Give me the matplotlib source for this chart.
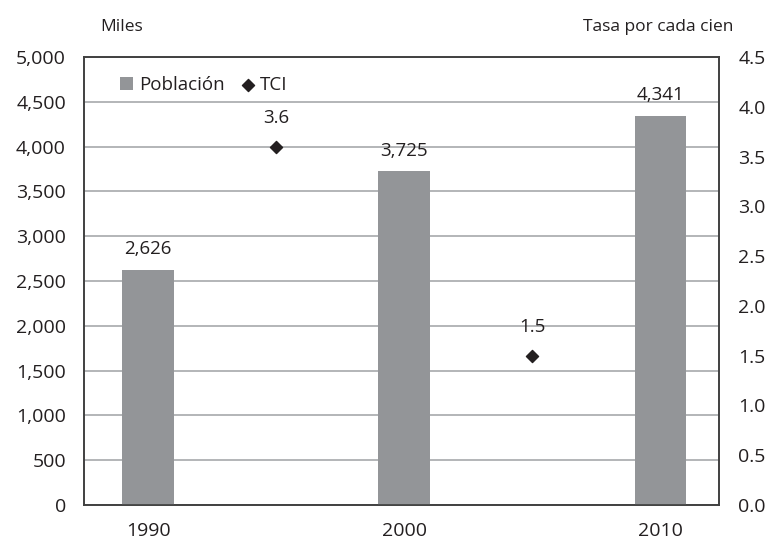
import matplotlib.pyplot as plt

# data
years = ["1990", "2000", "2010"]
poblacion = [2626, 3725, 4341]
tci_pos = [0.5, 1.5]
tci = [3.6, 1.5]

BAR_COLOR = "#939598"
TEXT_COLOR = "#231f20"
plt.rcParams["font.family"] = ["Open Sans", "DejaVu Sans"]

fig = plt.figure(figsize=(7.73, 5.42), dpi=100)
ax = fig.add_axes([84 / 773, 1 - 505 / 542, 635 / 773, 448 / 542])
ax2 = ax.twinx()

x = list(range(len(years)))
ax.bar(x, poblacion, width=0.2, color=BAR_COLOR, label="Población", zorder=3)
for xi, v in zip(x, poblacion):
    ax.text(xi, v + 130, f"{v:,}", ha="center", va="bottom", fontsize=13.5, color=TEXT_COLOR)

ax2.scatter(tci_pos, tci, marker="D", s=38, color=TEXT_COLOR, label="TCI", zorder=4)
for xi, v in zip(tci_pos, tci):
    ax2.text(xi, v + 0.2, f"{v:.1f}", ha="center", va="bottom", fontsize=13.5, color=TEXT_COLOR)

ax.set_xlim(-0.25, 2.23)
ax.set_ylim(0, 5000)
ax2.set_ylim(0, 4.5)
ax.set_yticks(range(0, 5001, 500))
ax.set_yticklabels([f"{v:,}" for v in range(0, 5001, 500)])
ax2.set_yticks([i * 0.5 for i in range(10)])
ax2.set_yticklabels([f"{i * 0.5:.1f}" for i in range(10)])
ax.set_xticks(x)
ax.set_xticklabels(years)

ax.grid(axis="y", color="#a7a9ac", linewidth=1.2, zorder=0)
ax.set_axisbelow(True)
for a in (ax, ax2):
    a.tick_params(length=0, labelsize=14, colors=TEXT_COLOR)
    for s in a.spines.values():
        s.set_color("#404040")
        s.set_linewidth(1.2)
ax.tick_params(axis="x", pad=12)
ax.tick_params(axis="y", pad=13)
ax2.tick_params(axis="y", pad=14)

fig.text(100 / 773, 1 - 27 / 542, "Miles", fontsize=12.5, color=TEXT_COLOR, va="center")
fig.text(733 / 773, 1 - 27 / 542, "Tasa por cada cien", fontsize=12.5, color=TEXT_COLOR, va="center", ha="right")

h1, l1 = ax.get_legend_handles_labels()
h2, l2 = ax2.get_legend_handles_labels()
ax.legend(h1 + h2, l1 + l2, loc="upper left", ncol=2, frameon=False, fontsize=13.5,
          handlelength=0.7, handleheight=0.7, handletextpad=0.3, columnspacing=0.9,
          bbox_to_anchor=(0.03, 0.995), labelcolor=TEXT_COLOR)

fig.savefig("out.png", dpi=100)
